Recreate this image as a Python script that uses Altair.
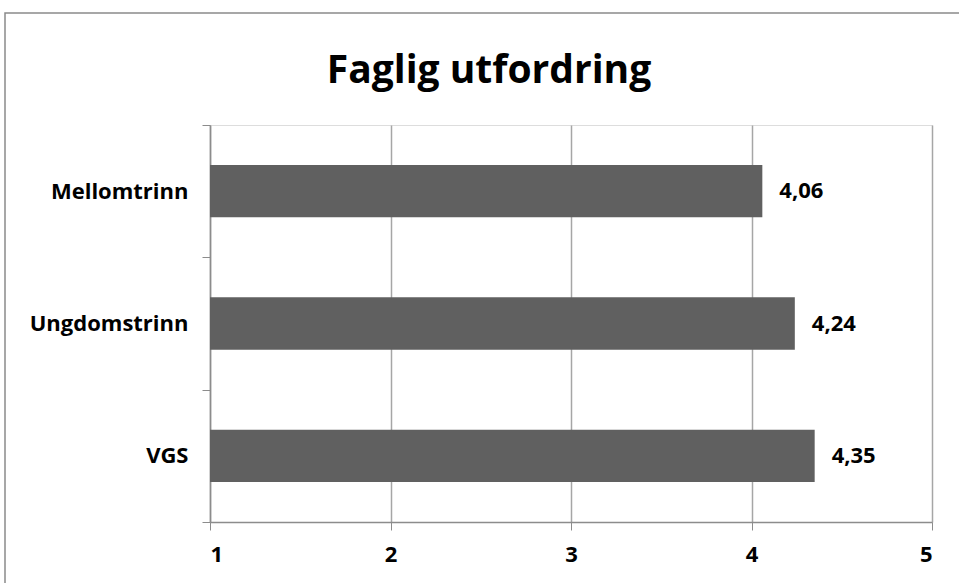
import altair as alt
import pandas as pd

# Mean score per school level
levels = ["Mellomtrinn", "Ungdomstrinn", "VGS"]
scores = [4.06, 4.24, 4.35]
score_labels = ["4,06", "4,24", "4,35"]
title_text = ["Faglig utfordring"]

df = pd.DataFrame({"nivå": levels, "snitt": scores, "etikett": score_labels})

FONT = "Open Sans"
GREY = "#8c8c8c"

y_enc = alt.Y(
    "nivå:N",
    sort=levels,
    title=None,
    scale=alt.Scale(paddingInner=0, paddingOuter=0),
    axis=alt.Axis(
        tickBand="extent",
        domainColor=GREY,
        tickColor=GREY,
        tickSize=8,
        domainWidth=1.5,
        labelPadding=14,
        labelFont=FONT,
        labelFontWeight="bold",
        labelFontSize=22,
        labelColor="black",
        grid=False,
    ),
)

x_enc = alt.X(
    "snitt:Q",
    title=None,
    scale=alt.Scale(domain=[1, 5], nice=False, zero=False),
    axis=alt.Axis(
        values=[1, 2, 3, 4, 5],
        format="d",
        domainColor=GREY,
        tickColor=GREY,
        tickSize=8,
        gridColor="#a6a6a6",
        gridWidth=1.5,
        domainWidth=1.5,
        labelPadding=14,
        labelFont=FONT,
        labelFontWeight="bold",
        labelFontSize=22,
        labelColor="black",
    ),
)

bars = alt.Chart(df).mark_bar(color="#606060", height={"band": 0.395}).encode(
    y=y_enc, x=x_enc, x2=alt.X2(datum=1)
)

labels = alt.Chart(df).mark_text(
    align="left", baseline="middle", dx=17, font=FONT, fontWeight="bold",
    fontSize=22, color="black",
).encode(y=alt.Y("nivå:N", sort=levels), x="snitt:Q", text="etikett:N")

# Chart heading, centred on the whole figure rather than the plot area
heading = alt.Chart(pd.DataFrame({"t": title_text})).mark_text(
    align="center", baseline="alphabetic", font=FONT, fontWeight="bold",
    fontSize=39, color="black",
).encode(text="t:N", x=alt.value(279), y=alt.value(-42))

# Thin outer frame around the figure
frame = alt.Chart(pd.DataFrame({"t": title_text})).mark_rect(
    fill=None, stroke="#8a8a8a", strokeWidth=1.5
).encode(
    x=alt.value(-205), x2=alt.value(760), y=alt.value(-112), y2=alt.value(500)
)

chart = (
    alt.layer(frame, bars, labels, heading)
    .properties(
        width=722,
        height=397,
        padding={"left": 210, "top": 125, "right": 27, "bottom": 61},
        autosize=alt.AutoSizeParams(type="none"),
    )
    .configure_view(stroke=None)
    .configure(background="white")
)

chart.save("out.html", embed_options={"renderer": "svg", "actions": False})
